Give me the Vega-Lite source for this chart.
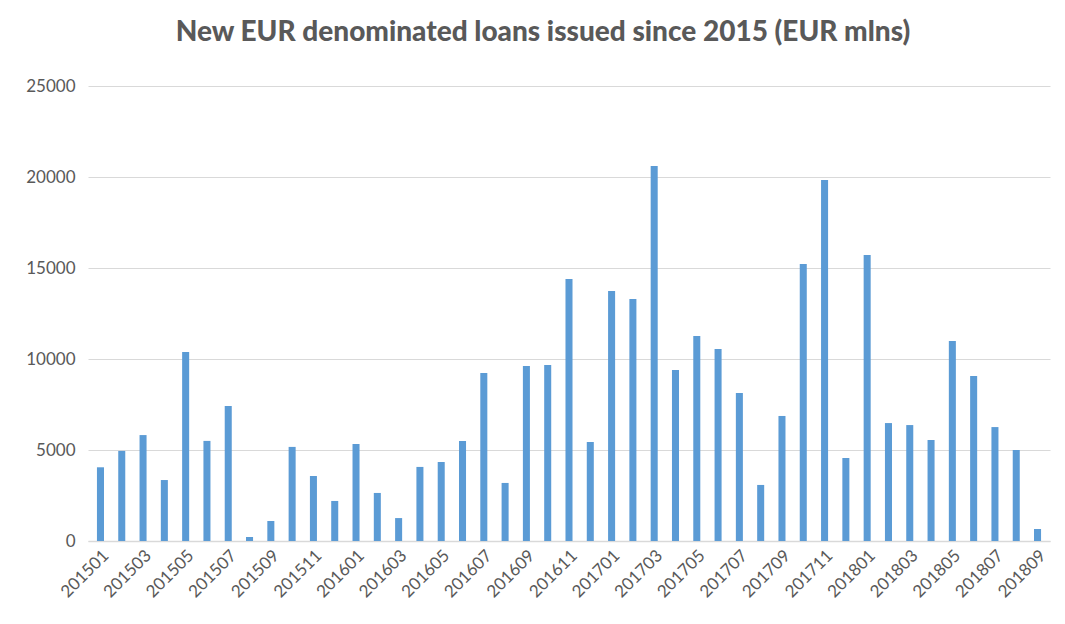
{
  "$schema": "https://vega.github.io/schema/vega-lite/v6.json",
  "width": 962,
  "height": 455,
  "autosize": {"type": "none"},
  "padding": {"left": 88, "top": 86, "right": 15, "bottom": 83},
  "background": "white",
  "title": {
    "text": "New EUR denominated loans issued since 2015 (EUR mlns)",
    "font": "Lato",
    "fontSize": 28,
    "fontWeight": 900,
    "color": "#595959",
    "anchor": "middle",
    "dx": -26,
    "offset": 30
  },
  "data": {
    "values": [
      {"month": "201501", "value": 4050},
      {"month": "201502", "value": 4950},
      {"month": "201503", "value": 5820},
      {"month": "201504", "value": 3350},
      {"month": "201505", "value": 10390},
      {"month": "201506", "value": 5500},
      {"month": "201507", "value": 7420},
      {"month": "201508", "value": 220},
      {"month": "201509", "value": 1100},
      {"month": "201510", "value": 5170},
      {"month": "201511", "value": 3570},
      {"month": "201512", "value": 2200},
      {"month": "201601", "value": 5330},
      {"month": "201602", "value": 2640},
      {"month": "201603", "value": 1260},
      {"month": "201604", "value": 4070},
      {"month": "201605", "value": 4340},
      {"month": "201606", "value": 5500},
      {"month": "201607", "value": 9230},
      {"month": "201608", "value": 3190},
      {"month": "201609", "value": 9620},
      {"month": "201610", "value": 9670},
      {"month": "201611", "value": 14400},
      {"month": "201612", "value": 5440},
      {"month": "201701", "value": 13740},
      {"month": "201702", "value": 13300},
      {"month": "201703", "value": 20600},
      {"month": "201704", "value": 9400},
      {"month": "201705", "value": 11260},
      {"month": "201706", "value": 10550},
      {"month": "201707", "value": 8130},
      {"month": "201708", "value": 3080},
      {"month": "201709", "value": 6870},
      {"month": "201710", "value": 15220},
      {"month": "201711", "value": 19840},
      {"month": "201712", "value": 4560},
      {"month": "201801", "value": 15710},
      {"month": "201802", "value": 6480},
      {"month": "201803", "value": 6370},
      {"month": "201804", "value": 5550},
      {"month": "201805", "value": 10990},
      {"month": "201806", "value": 9070},
      {"month": "201807", "value": 6260},
      {"month": "201808", "value": 5000},
      {"month": "201809", "value": 660}
    ]
  },
  "mark": {"type": "bar", "color": "#5b9bd5"},
  "encoding": {
    "x": {
      "field": "month",
      "type": "ordinal",
      "sort": null,
      "scale": {"paddingInner": 0.67, "paddingOuter": 0.42},
      "axis": {
        "title": null,
        "values": ["201501","201503","201505","201507","201509","201511","201601","201603","201605","201607","201609","201611","201701","201703","201705","201707","201709","201711","201801","201803","201805","201807","201809"],
        "labelAngle": -45,
        "labelFont": "Lato",
        "labelFontSize": 17,
        "labelColor": "#595959",
        "ticks": false,
        "domainColor": "#d9d9d9",
        "domainWidth": 1.5,
        "labelPadding": 6
      }
    },
    "y": {
      "field": "value",
      "type": "quantitative",
      "scale": {"domain": [0, 25000], "nice": false},
      "axis": {
        "title": null,
        "values": [0, 5000, 10000, 15000, 20000, 25000],
        "format": "d",
        "domain": false,
        "ticks": false,
        "labelFont": "Lato",
        "labelFontSize": 17,
        "labelColor": "#595959",
        "labelPadding": 13,
        "gridColor": "#d9d9d9",
        "gridWidth": 1
      }
    }
  },
  "config": {"view": {"stroke": null}}
}
